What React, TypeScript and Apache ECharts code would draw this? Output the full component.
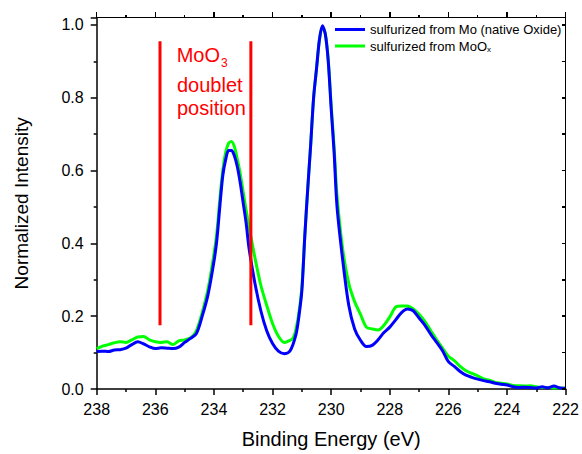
import React, { useEffect, useRef, useState } from "react";
import * as echarts from "echarts";

// Binding energies (eV) and normalized intensities
const blueEnergy = [
  238.0, 237.8, 237.6, 237.4, 237.2, 237.0, 236.8, 236.6, 236.4, 236.2, 236.0, 235.8, 235.6, 235.4, 235.2, 235.0,
  234.8, 234.6, 234.4, 234.2, 234.0, 233.9, 233.8, 233.7, 233.6, 233.5, 233.4, 233.3, 233.2, 233.1, 233.0, 232.9,
  232.8, 232.6, 232.4, 232.2, 232.0, 231.8, 231.6, 231.4, 231.2, 231.1, 231.0, 230.9, 230.8, 230.7, 230.6, 230.5,
  230.4, 230.3, 230.2, 230.1, 230.0, 229.9, 229.8, 229.6, 229.4, 229.2, 229.0, 228.8, 228.6, 228.4, 228.2, 228.0,
  227.8, 227.6, 227.4, 227.2, 227.0, 226.8, 226.6, 226.4, 226.2, 226.0, 225.8, 225.6, 225.4, 225.2, 225.0, 224.8,
  224.6, 224.4, 224.2, 224.0, 223.8, 223.6, 223.4, 223.2, 223.0, 222.8, 222.6, 222.4, 222.2, 222.0,
];
const blueIntensity = [
  0.103, 0.104, 0.103, 0.107, 0.108, 0.112, 0.122, 0.13, 0.124, 0.116, 0.111, 0.113, 0.112, 0.111, 0.115, 0.128,
  0.139, 0.152, 0.2, 0.26, 0.35, 0.41, 0.5, 0.585, 0.63, 0.655, 0.655, 0.64, 0.61, 0.565, 0.51, 0.455,
  0.385, 0.29, 0.215, 0.16, 0.125, 0.104, 0.097, 0.105, 0.15, 0.2, 0.27, 0.42, 0.55, 0.67, 0.8, 0.88,
  0.96, 0.998, 0.975, 0.9, 0.77, 0.65, 0.5, 0.35, 0.23, 0.165, 0.134, 0.117, 0.12, 0.135, 0.155, 0.17,
  0.19, 0.21, 0.22, 0.215, 0.195, 0.175, 0.15, 0.128, 0.105, 0.075, 0.062, 0.048, 0.038, 0.032, 0.027, 0.023,
  0.02, 0.016, 0.013, 0.011, 0.006, 0.004, 0.005, 0.004, 0.003, 0.006, 0.003, 0.008, 0.003, 0.002,
];

const greenEnergy = [
  238.0, 237.8, 237.6, 237.4, 237.2, 237.0, 236.8, 236.6, 236.4, 236.2, 236.0, 235.8, 235.6, 235.4, 235.2, 235.0,
  234.8, 234.6, 234.4, 234.2, 234.0, 233.9, 233.8, 233.7, 233.6, 233.5, 233.4, 233.3, 233.2, 233.1, 233.0, 232.9,
  232.8, 232.6, 232.4, 232.2, 232.0, 231.8, 231.6, 231.5, 231.3, 231.2, 231.1, 231.0, 230.9, 230.8, 230.7, 230.6,
  230.5, 230.4, 230.3, 230.2, 230.1, 230.0, 229.9, 229.8, 229.6, 229.4, 229.2, 229.0, 228.8, 228.6, 228.4, 228.2,
  228.0, 227.8, 227.6, 227.4, 227.2, 227.0, 226.8, 226.6, 226.4, 226.2, 226.0, 225.8, 225.6, 225.4, 225.2, 225.0,
  224.8, 224.6, 224.4, 224.2, 224.0, 223.8, 223.6, 223.4, 223.2, 223.0, 222.8, 222.6, 222.4, 222.2, 222.0,
];
const greenIntensity = [
  0.111, 0.118, 0.122, 0.127, 0.13, 0.128, 0.135, 0.143, 0.144, 0.135, 0.13, 0.128, 0.13, 0.122, 0.132, 0.135,
  0.14, 0.16, 0.21, 0.275, 0.37, 0.43, 0.52, 0.6, 0.65, 0.675, 0.68, 0.665, 0.63, 0.59, 0.54, 0.49,
  0.445, 0.36, 0.285, 0.23, 0.18, 0.145, 0.128, 0.13, 0.14, 0.165, 0.21, 0.28, 0.42, 0.55, 0.67, 0.8,
  0.88, 0.96, 0.995, 0.975, 0.905, 0.78, 0.665, 0.53, 0.38, 0.29, 0.24, 0.205, 0.17, 0.165, 0.162, 0.175,
  0.198, 0.225, 0.228, 0.228, 0.22, 0.205, 0.185, 0.16, 0.135, 0.112, 0.09, 0.078, 0.062, 0.05, 0.043, 0.036,
  0.028, 0.024, 0.018, 0.016, 0.014, 0.01, 0.009, 0.008, 0.009, 0.006, 0.004, 0.004, 0.003, 0.003, 0.002,
];

// MoO3 doublet marker positions (eV) and their vertical extent
const moO3Positions = [235.84, 232.74];
const markerRange = [0.175, 0.955];

const seriesNames = ["sulfurized from Mo (native Oxide)", "sulfurized from MoOx"];

const xTicks = { min: 222, max: 238, interval: 2 };
const yTicks = { min: 0, max: 1.02, interval: 0.2, top: 1.0 };

const FONT = "Arial, 'Liberation Sans', Helvetica, sans-serif";

const mkLine = () => ({ show: true, onZero: false, lineStyle: { color: "#000", width: 1.5 } });
const mkTick = (length: number) => ({ show: true, length, lineStyle: { color: "#000", width: 1.5 } });
const mkMinor = (length: number) => ({ show: true, splitNumber: 2, length, lineStyle: { color: "#000", width: 1.5 } });

type Frame = {
  left: number;
  right: number;
  top: number;
  bottom: number;
  xt: { p: number; major: boolean }[];
  yt: number[];
};

export default function App() {
  const ref = useRef<HTMLDivElement>(null);
  const [frame, setFrame] = useState<Frame | null>(null);

  useEffect(() => {
    if (!ref.current) return;
    const chart = echarts.init(ref.current, undefined, { renderer: "svg" });

    const pairs = (xs: number[], ys: number[]) => xs.map((x, i) => [x, ys[i]]);

    const redSeries = moO3Positions.map((e) => ({
      type: "line",
      name: "marker" + e,
      data: markerRange.map((v) => [e, v]),
      symbol: "none",
      lineStyle: { color: "#FF0000", width: 3 },
      silent: true,
      z: 5,
    }));

    const yFormatter = (v: number) => {
      const r = Math.round(v * 10) / 10;
      if (Math.abs(v - r) > 1e-6 || Math.round(r * 10) % 2 !== 0) return "";
      return r.toFixed(1);
    };

    chart.setOption({
      animation: false,
      grid: { left: 96.7, right: 15.3, top: 17.7, bottom: 63.3 },
      legend: {
        data: seriesNames,
        orient: "vertical",
        left: 335,
        top: 23,
        padding: 0,
        itemGap: 0,
        icon: "rect",
        itemWidth: 30,
        itemHeight: 3,
        formatter: (name: string) =>
          name === "sulfurized from MoOx" ? "{t|sulfurized from MoO}{s|x}" : "{t|" + name + "}",
        textStyle: {
          fontFamily: FONT,
          color: "#000",
          rich: {
            t: { fontSize: 13, lineHeight: 14, color: "#000", fontFamily: FONT },
            s: { fontSize: 8, lineHeight: 8, verticalAlign: "bottom", padding: [9, 0, 0, 0], color: "#000", fontFamily: FONT },
          },
        },
        selectedMode: false,
      },
      xAxis: {
        type: "value",
        min: xTicks.min,
        max: xTicks.max,
        interval: xTicks.interval,
        inverse: true,
        position: "bottom",
        name: "Binding Energy (eV)",
        nameLocation: "middle",
        nameGap: 40,
        nameTextStyle: { fontSize: 20, color: "#000", fontFamily: FONT },
        axisLine: mkLine(),
        axisTick: mkTick(6),
        minorTick: mkMinor(3),
        axisLabel: { fontSize: 16, color: "#000", margin: 12, fontFamily: FONT },
        splitLine: { show: false },
      },
      yAxis: {
        type: "value",
        min: yTicks.min,
        max: yTicks.max,
        interval: yTicks.interval,
        position: "left",
        name: "Normalized Intensity",
        nameLocation: "middle",
        nameGap: 66,
        nameTextStyle: { fontSize: 19, color: "#000", fontFamily: FONT },
        axisLine: mkLine(),
        axisTick: mkTick(6),
        minorTick: mkMinor(3),
        axisLabel: { fontSize: 16, color: "#000", margin: 13, fontFamily: FONT, formatter: yFormatter },
        splitLine: { show: false },
      },
      series: [
        {
          type: "line",
          name: seriesNames[1],
          data: pairs(greenEnergy, greenIntensity),
          symbol: "none",
          smooth: 0.3,
          color: "#00FF00",
          lineStyle: { color: "#00FF00", width: 3 },
          z: 2,
        },
        {
          type: "line",
          name: seriesNames[0],
          data: pairs(blueEnergy, blueIntensity),
          symbol: "none",
          smooth: 0.3,
          color: "#0000FF",
          lineStyle: { color: "#0000FF", width: 3 },
          z: 3,
        },
        ...redSeries,
      ],
      graphic: [
        { type: "text", x: 176.7, y: 54.5, style: { text: "MoO", fontSize: 20, fill: "#FF0000", fontFamily: FONT, verticalAlign: "middle" } },
        { type: "text", x: 221, y: 63, style: { text: "3", fontSize: 12, fill: "#FF0000", fontFamily: FONT, verticalAlign: "middle" } },
        { type: "text", x: 177, y: 84.5, style: { text: "doublet", fontSize: 20, fill: "#FF0000", fontFamily: FONT, verticalAlign: "middle" } },
        { type: "text", x: 177, y: 107.5, style: { text: "position", fontSize: 20, fill: "#FF0000", fontFamily: FONT, verticalAlign: "middle" } },
      ],
    });

    // Mirror frame (top / right edges) placed with the chart's own axis scales
    const num = (v: any, fb: number) => (typeof v === "number" && isFinite(v) ? v : fb);
    const px = (v: number, fb: number) => num(chart.convertToPixel({ xAxisIndex: 0 }, v), fb);
    const py = (v: number, fb: number) => num(chart.convertToPixel({ yAxisIndex: 0 }, v), fb);
    const left = px(xTicks.max, 96.7);
    const right = px(xTicks.min, 566.7);
    const top = py(yTicks.max, 17.7);
    const bottom = py(yTicks.min, 390.7);
    const xt: { p: number; major: boolean }[] = [];
    const half = xTicks.interval / 2;
    for (let k = 0; xTicks.min + k * half <= xTicks.max + 1e-9; k++) {
      const v = xTicks.min + k * half;
      xt.push({ p: left + ((v - xTicks.max) / (xTicks.min - xTicks.max)) * (right - left), major: k % 2 === 0 });
    }
    const yt: number[] = [];
    const yHalf = yTicks.interval / 2;
    for (let k = 0; k * yHalf <= yTicks.top + 1e-9; k++) {
      const v = k * yHalf;
      yt.push(bottom + ((v - yTicks.min) / (yTicks.max - yTicks.min)) * (top - bottom));
    }
    setFrame({ left, right, top, bottom, xt, yt });

    return () => chart.dispose();
  }, []);

  const lw = 1.5;
  const bar = (l: number, t: number, w: number, h: number, key: string) => (
    <div key={key} style={{ position: "absolute", left: l, top: t, width: w, height: h, background: "#000", pointerEvents: "none" }} />
  );

  return (
    <div style={{ position: "fixed", left: 0, top: 0, width: 582, height: 454, background: "#fff" }}>
      <div ref={ref} style={{ position: "absolute", left: 0, top: 0, width: 582, height: 454 }} />
      {frame && (
        <div style={{ position: "absolute", left: 0, top: 0, width: 582, height: 454, pointerEvents: "none" }}>
          {bar(frame.left - lw / 2, frame.top - lw / 2, frame.right - frame.left + lw, lw, "top")}
          {bar(frame.right - lw / 2, frame.top - lw / 2, lw, frame.bottom - frame.top + lw, "right")}
          {frame.xt.map((t, i) => {
            const len = t.major ? 6 : 3;
            return bar(t.p - lw / 2, frame.top - len, lw, len, "xt" + i);
          })}
          {frame.yt.map((p, i) => bar(frame.right - 4, p - lw / 2, 4, lw, "yt" + i))}
        </div>
      )}
    </div>
  );
}
